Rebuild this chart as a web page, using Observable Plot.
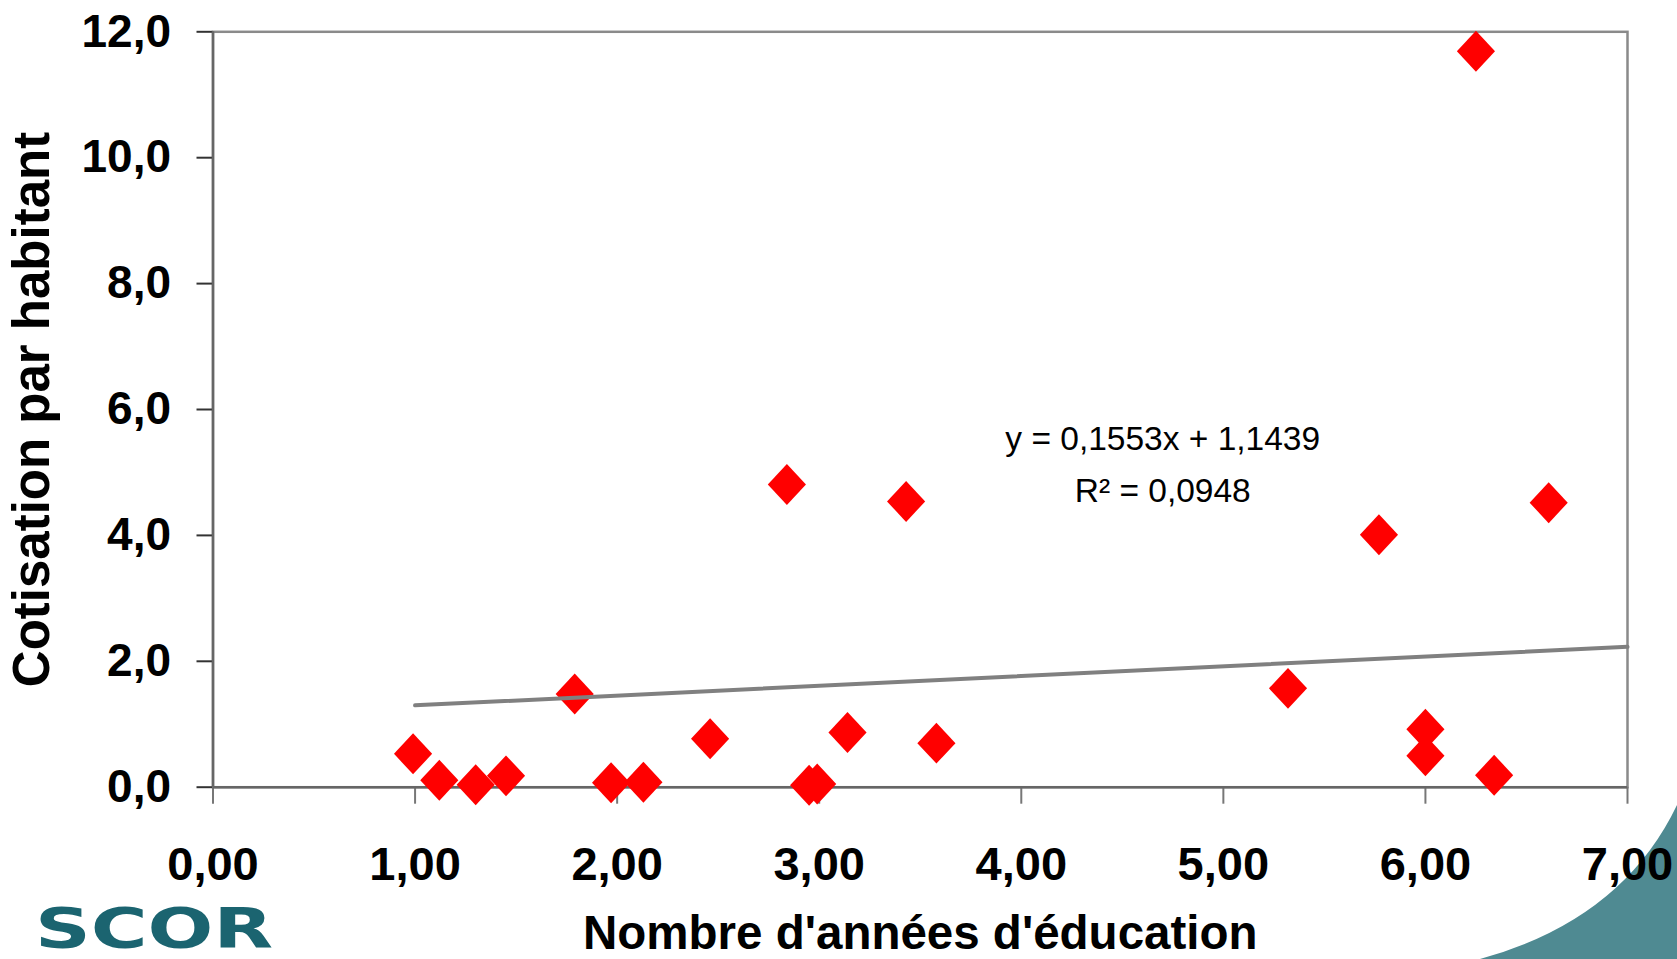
<!DOCTYPE html>
<html>
<head>
<meta charset="utf-8">
<script src="https://cdn.jsdelivr.net/npm/d3@7"></script>
<script src="https://cdn.jsdelivr.net/npm/@observablehq/plot@0.6"></script>
<style>
  html, body { margin: 0; padding: 0; background: #ffffff; }
  #wrap { position: relative; width: 1677px; height: 959px; overflow: hidden; background: #ffffff; }
  #deco { position: absolute; left: 0; top: 0; z-index: 0; }
  #chart { position: absolute; left: 0; top: 0; z-index: 1; }
</style>
</head>
<body>
<div id="wrap">
  <svg id="deco" width="1677" height="959" xmlns="http://www.w3.org/2000/svg">
    <path d="M1480,959 Q1622,920 1677,805 L1677,959 Z" fill="#4f8a92"></path>
    <text x="35" y="946.5" textLength="238" lengthAdjust="spacingAndGlyphs"
          font-family="'DejaVu Sans', sans-serif" font-weight="bold" font-size="56" fill="#1b6470">SCOR</text>
  </svg>
  <div id="chart"></div>
</div>
<script>
// ---- Data ----
const educationYears = [0.99, 1.12, 1.30, 1.45, 1.79, 1.97, 2.13, 2.46, 2.84, 2.95, 2.99, 3.14, 3.43, 3.58, 5.32, 5.77, 6.00, 6.00, 6.25, 6.34, 6.61];
const cotisation     = [0.53, 0.11, 0.04, 0.18, 1.48, 0.07, 0.08, 0.77, 4.81, 0.03, 0.05, 0.87, 4.54, 0.70, 1.57, 4.01, 0.92, 0.50, 11.69, 0.19, 4.52];

// Trend line endpoints as drawn (y = 0,1553x + 1,1439)
const trendX = [1, 7];
const trendY = [1.30, 2.23];

// Axis ticks and labels
const xTicks = [0, 1, 2, 3, 4, 5, 6, 7];
const xTickLabels = ["0,00", "1,00", "2,00", "3,00", "4,00", "5,00", "6,00", "7,00"];
const yTicks = [0, 2, 4, 6, 8, 10, 12];
const yTickLabels = ["0,0", "2,0", "4,0", "6,0", "8,0", "10,0", "12,0"];

// Texts
const xTitle = "Nombre d'années d'éducation";
const yTitle = "Cotisation par habitant";
const eqLabels = ["y = 0,1553x + 1,1439", "R² = 0,0948"];
const eqX = [4.70, 4.70];
const eqY = [5.53, 4.70];

// ---- Build tables ----
const points = educationYears.map((x, i) => ({x, y: cotisation[i]}));
const trend = trendX.map((x, i) => ({x, y: trendY[i]}));
const eq = eqLabels.map((t, i) => ({x: eqX[i], y: eqY[i], t}));

const diamond = {
  draw(ctx, size) {
    const s = Math.sqrt(size / Math.PI);
    ctx.moveTo(0, -s * 1.17);
    ctx.lineTo(s * 1.09, 0);
    ctx.lineTo(0, s * 1.17);
    ctx.lineTo(-s * 1.09, 0);
    ctx.closePath();
  }
};

const chart = Plot.plot({
  width: 1677,
  height: 959,
  marginLeft: 212.5,
  marginRight: 50,
  marginTop: 31.3,
  marginBottom: 172.3,
  style: {background: "transparent", fontFamily: "'Liberation Sans', Arial, sans-serif", overflow: "visible", color: "#000"},
  x: {domain: [0, 7], label: null},
  y: {domain: [0, 12], label: null},
  marks: [
    Plot.frame({stroke: "#8a8a8a", strokeWidth: 2.5}),
    Plot.axisY({
      ticks: yTicks,
      tickFormat: d => yTickLabels[yTicks.indexOf(d)],
      tickSize: 16, tickPadding: 26,
      fontSize: 46, fontWeight: "bold",
      stroke: "#333", strokeWidth: 2, fill: "#000",
      label: null
    }),
    Plot.axisX({
      ticks: xTicks,
      tickFormat: d => xTickLabels[xTicks.indexOf(d)],
      tickSize: 17, tickPadding: 42,
      fontSize: 47, fontWeight: "bold",
      stroke: "#777", strokeWidth: 2, fill: "#000",
      label: null
    }),
    Plot.ruleX([0], {stroke: "#666", strokeWidth: 2.5}),
    Plot.ruleY([0], {stroke: "#666", strokeWidth: 2.5}),
    Plot.dot(points, {x: "x", y: "y", r: 17.5, symbol: diamond, fill: "#ff0000", stroke: "none"}),
    Plot.line(trend, {x: "x", y: "y", stroke: "#808080", strokeWidth: 4}),
    Plot.text(eq, {x: "x", y: "y", text: "t", fontSize: 33.5, fill: "#000", textAnchor: "middle", lineAnchor: "middle"}),
    Plot.text([yTitle], {text: d => d, frameAnchor: "left", textAnchor: "middle", lineAnchor: "middle", dx: -180.5, rotate: -90, fontSize: 51, fontWeight: "bold", fill: "#000"}),
    Plot.text([xTitle], {text: d => d, frameAnchor: "bottom", textAnchor: "middle", lineAnchor: "top", dy: 128.5, fontSize: 47.5, fontWeight: "bold", fill: "#000"})
  ]
});
document.getElementById("chart").appendChild(chart);
</script>
</body>
</html>
